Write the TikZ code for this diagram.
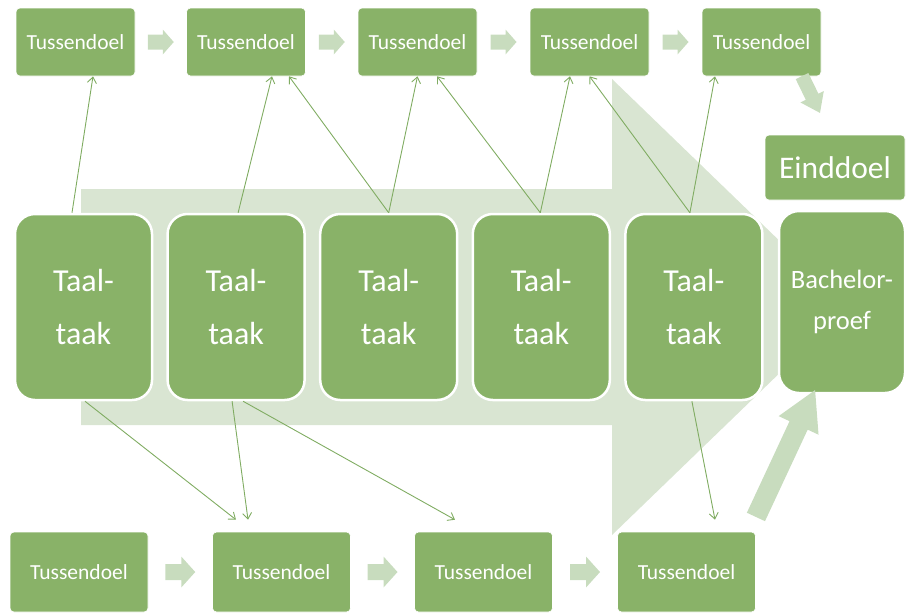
\documentclass[tikz,border=0pt]{standalone}
\usepackage{fontspec}
\setmainfont{Carlito}
\usetikzlibrary{calc,arrows.meta}
\definecolor{boxgreen}{RGB}{137,178,104}
\definecolor{lightarrow}{RGB}{200,220,190}
\definecolor{bgarrow}{RGB}{217,229,210}
\definecolor{linegreen}{RGB}{128,172,98}
\begin{document}
\begin{tikzpicture}[x=1pt,y=-1pt,
  tbox/.style={fill=boxgreen, draw=white, line width=0.6pt, rounded corners=4pt,
    minimum width=119pt, minimum height=68pt, inner sep=0pt, text=white,
    font=\fontsize{21.5}{25}\selectfont},
  bbox/.style={tbox, minimum width=138pt, minimum height=80pt},
  kbox/.style={fill=boxgreen, draw=white, line width=2.5pt, rounded corners=20pt,
    minimum width=137pt, minimum height=186pt, inner sep=0pt, text=white, align=center,
    font=\fontsize{32}{53}\selectfont},
  ebox/.style={fill=boxgreen, draw=white, line width=0.6pt, rounded corners=4pt,
    minimum width=140pt, minimum height=65pt, inner sep=0pt, text=white,
    font=\fontsize{31.5}{36}\selectfont},
  pbox/.style={kbox, minimum width=126pt, minimum height=182pt,
    font=\fontsize{26.5}{41}\selectfont},
  link/.style={draw=linegreen, line width=0.9pt,
    -{Straight Barb[length=6pt,width=9pt,line width=0.9pt]}},
  pics/blockarrow/.style args={#1/#2/#3/#4}{code={
    \fill[lightarrow] (-#1/2,-#2) -- (#1/2-#4,-#2) -- (#1/2-#4,-#3) -- (#1/2,0)
      -- (#1/2-#4,#3) -- (#1/2-#4,#2) -- (-#1/2,#2) -- cycle;}}
]
\useasboundingbox (0,0) rectangle (909,614);

% big background arrow
\fill[bgarrow] (81,189) -- (612,189) -- (612,79) -- (848,307) -- (612,535)
  -- (612,425) -- (81,425) -- cycle;

% top intermediate goals
\node[tbox] (t1) at (75.5,42) {Tussendoel};
\node[tbox] (t2) at (246,42) {Tussendoel};
\node[tbox] (t3) at (417.5,42) {Tussendoel};
\node[tbox] (t4) at (589.5,42) {Tussendoel};
\node[tbox] (t5) at (761.5,42) {Tussendoel};

% bottom intermediate goals
\node[bbox] (b1) at (79,572) {Tussendoel};
\node[bbox] (b2) at (281.5,572) {Tussendoel};
\node[bbox] (b3) at (483.5,572) {Tussendoel};
\node[bbox] (b4) at (686.5,572) {Tussendoel};

% language tasks
\node[kbox] (k1) at (83.5,307) {Taal-\\taak};
\node[kbox] (k2) at (236.1,307) {Taal-\\taak};
\node[kbox] (k3) at (388.7,307) {Taal-\\taak};
\node[kbox] (k4) at (541.3,307) {Taal-\\taak};
\node[kbox] (k5) at (693.9,307) {Taal-\\taak};

% end goal and bachelor thesis
\node[ebox] (e) at (835,167.5) {Einddoel};
\node[pbox] (p) at (842,302) {Bachelor-\\proef};

% small block arrows between goals
\pic at ($(t1.east)!0.5!(t2.west)$) {blockarrow=26/7.5/12.5/11};
\pic at ($(t2.east)!0.5!(t3.west)$) {blockarrow=26/7.5/12.5/11};
\pic at ($(t3.east)!0.5!(t4.west)$) {blockarrow=26/7.5/12.5/11};
\pic at ($(t4.east)!0.5!(t5.west)$) {blockarrow=26/7.5/12.5/11};
\pic at ($(b1.east)!0.5!(b2.west)$) {blockarrow=30/8/15.5/14};
\pic at ($(b2.east)!0.5!(b3.west)$) {blockarrow=30/8/15.5/14};
\pic at ($(b3.east)!0.5!(b4.west)$) {blockarrow=30/8/15.5/14};

% arrow to end goal and to bachelor thesis
\pic[rotate=-64] at (811,94.5) {blockarrow=41/7/13/18};
\pic[rotate=65] at (785.5,453.5) {blockarrow=140/10/22/39};

% links from tasks to top goals
\draw[link] ([xshift=-11.5pt]k1.north) -- ([xshift=17.5pt]t1.south);
\draw[link] ([xshift=2pt]k2.north) -- ([xshift=26pt]t2.south);
\draw[link] (k3.north) -- ([xshift=43pt]t2.south);
\draw[link] (k3.north) -- (t3.south);
\draw[link] ([xshift=-1pt]k4.north) -- ([xshift=19.5pt]t3.south);
\draw[link] ([xshift=-1pt]k4.north) -- ([xshift=-19.5pt]t4.south);
\draw[link] ([xshift=-4pt]k5.north) -- (t4.south);
\draw[link] ([xshift=-4pt]k5.north) -- ([xshift=-46.5pt]t5.south);

% links from tasks to bottom goals
\draw[link] ([xshift=1.5pt]k1.south) -- ([xshift=-45.5pt,yshift=12pt]b2.north);
\draw[link] ([xshift=-4pt]k2.south) -- ([xshift=-33.5pt,yshift=12pt]b2.north);
\draw[link] ([xshift=7pt]k2.south) -- ([xshift=-28.5pt,yshift=12pt]b3.north);
\draw[link] ([xshift=-2pt]k5.south) -- ([xshift=28.5pt,yshift=12pt]b4.north);
\end{tikzpicture}
\end{document}
